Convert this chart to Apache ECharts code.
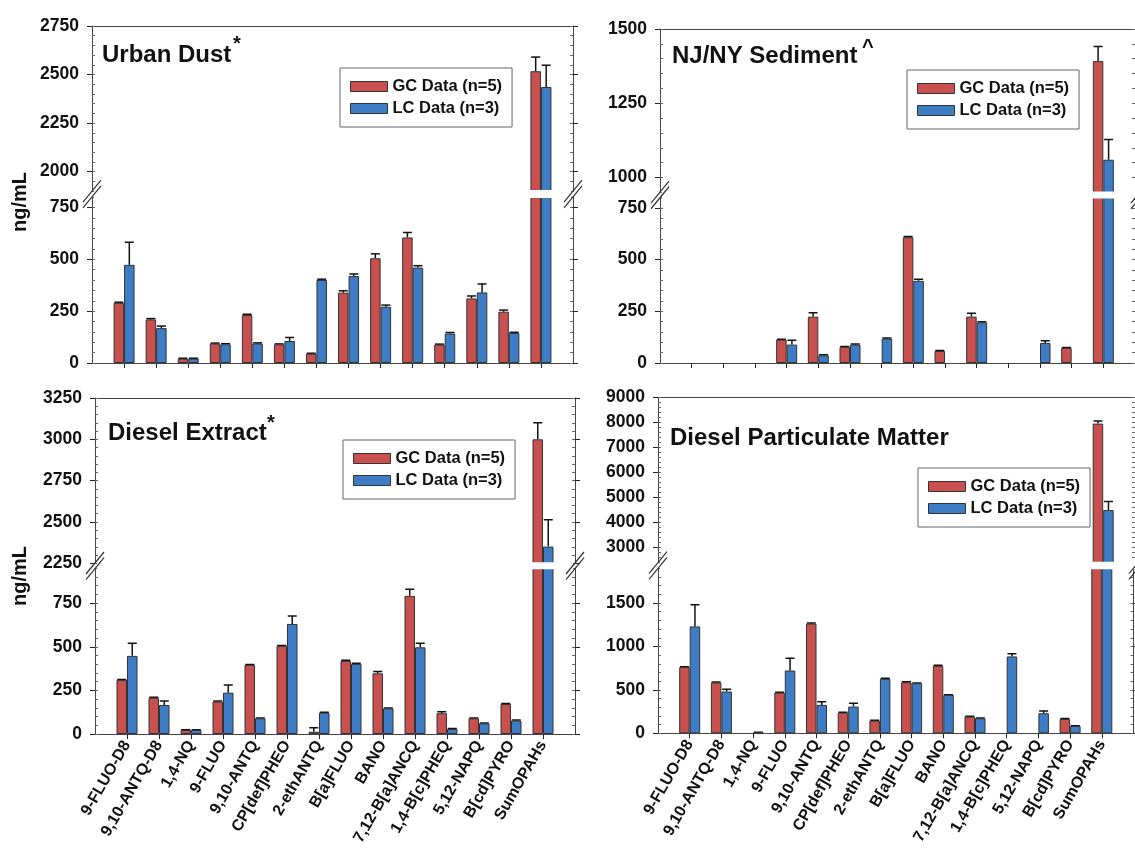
<!DOCTYPE html>
<html><head><meta charset="utf-8">
<script src="https://cdn.jsdelivr.net/npm/echarts@6/dist/echarts.min.js"></script>
<style>html,body{margin:0;padding:0;background:#fff}#c{width:1135px;height:866px}</style>
</head><body><div id="c"></div>
<script>
const categories = ['9-FLUO-D8','9,10-ANTQ-D8','1,4-NQ','9-FLUO','9,10-ANTQ','CP[def]PHEO','2-ethANTQ','B[a]FLUO','BANO','7,12-B[a]ANCQ','1,4-B[c]PHEQ','5,12-NAPQ','B[cd]PYRO','SumOPAHs'];
const seriesNames = ['GC Data (n=5)','LC Data (n=3)'];

// Urban Dust
const urbanGC    = [290,210,21,94,231,90,45,339,505,605,89,311,247,2517];
const urbanGCErr = [3,4,2,2,4,2,2,9,21,24,2,12,8,73];
const urbanLC    = [473,168,21,90,94,106,400,419,271,460,142,340,145,2436];
const urbanLCErr = [109,10,2,3,3,17,4,10,8,9,5,41,3,112];
// NJ/NY Sediment
const sedGC    = [null,null,null,113,224,78,null,608,58,224,null,null,73,1392];
const sedGCErr = [0,0,0,2,19,2,0,4,2,16,0,0,2,49];
const sedLC    = [null,null,null,89,37,89,118,397,null,196,null,97,null,1060];
const sedLCErr = [0,0,0,21,3,3,3,8,0,3,0,10,0,68];
// Diesel Extract
const dexGC    = [310,208,23,186,396,505,13,419,348,792,119,90,172,3000];
const dexGCErr = [2,3,2,3,3,3,23,4,10,38,9,2,3,100];
const dexLC    = [448,166,23,237,90,631,122,402,147,497,29,61,77,2351];
const dexLCErr = [72,23,2,44,2,46,3,3,2,23,2,2,3,162];
// Diesel Particulate Matter
const dpmGC    = [762,585,null,469,1262,238,146,588,777,192,null,null,165,7950];
const dpmGCErr = [5,5,0,5,8,5,3,5,8,4,0,0,4,100];
const dpmLC    = [1231,481,10,723,327,308,627,577,442,173,885,231,85,4500];
const dpmLCErr = [250,27,2,142,35,38,6,3,3,4,30,27,3,340];

// tick labels
const urbanUpperTicks = [2000,2250,2500,2750];
const urbanLowerTicks = [0,250,500,750];
const sedUpperTicks = [1000,1250,1500];
const sedLowerTicks = [0,250,500,750];
const dexUpperTicks = [2250,2500,2750,3000,3250];
const dexLowerTicks = [0,250,500,750];
const dpmUpperTicks = [3000,4000,5000,6000,7000,8000,9000];
const dpmLowerTicks = [0,500,1000,1500];

const RED = '#C8504E', BLUE = '#3E7CC6';
const FONT = "'Liberation Sans', Arial, Helvetica, sans-serif";
const BW = 10.5;

const panels = [
  {gc:urbanGC, gcErr:urbanGCErr, lc:urbanLC, lcErr:urbanLCErr, left:92, width:481, labels:false,
   up:{top:26, height:165, min:1900, max:2750, ticks:urbanUpperTicks, minor:50},
   lo:{top:197, height:166, min:0, max:800, ticks:urbanLowerTicks, minor:50},
   legend:[340,68], title:['Urban Dust',102,55], sup:['*',233,44], ylabel:[20,202]},
  {gc:sedGC, gcErr:sedGCErr, lc:sedLC, lcErr:sedLCErr, left:660, width:480, labels:false,
   up:{top:29, height:163.4, min:950, max:1500, ticks:sedUpperTicks, minor:50},
   lo:{top:197.5, height:165.5, min:0, max:800, ticks:sedLowerTicks, minor:50},
   legend:[907,70], title:['NJ/NY Sediment',672,56], sup:['^',862,47], ylabel:null},
  {gc:dexGC, gcErr:dexGCErr, lc:dexLC, lcErr:dexLCErr, left:95, width:480, labels:true,
   up:{top:398, height:165.3, min:2250, max:3250, ticks:dexUpperTicks, minor:50},
   lo:{top:568.3, height:165.7, min:0, max:950, ticks:dexLowerTicks, minor:50},
   legend:[343,440], title:['Diesel Extract',108,433], sup:['*',267,423], ylabel:[20,576]},
  {gc:dpmGC, gcErr:dpmGCErr, lc:dpmLC, lcErr:dpmLCErr, left:658, width:480, labels:true,
   up:{top:397.3, height:165.4, min:2400, max:9000, ticks:dpmUpperTicks, minor:200},
   lo:{top:568.3, height:165, min:0, max:1900, ticks:dpmLowerTicks, minor:100},
   legend:[918,468], title:['Diesel Particulate Matter',670,438], sup:null, ylabel:null}
];

const grid=[], xAxis=[], yAxis=[], series=[], graphic=[];
const axisCol = '#444';
const labelStyle = {color:'#111', fontFamily:FONT, fontWeight:'bold', fontSize:17.5};

function yAx(gi, s, pos, major){
  if (major) return {type:'value', gridIndex:gi, min:s.min, max:s.max, position:pos,
    axisLine:{show:true, lineStyle:{color:axisCol, width:1}},
    axisTick:{show:true, inside:false, length:5, customValues:s.ticks, lineStyle:{color:'#222', width:1}},
    axisLabel:{show:pos==='left', customValues:s.ticks, margin:13, formatter:(v)=>String(v), ...labelStyle},
    splitLine:{show:false}};
  return {type:'value', gridIndex:gi, min:s.min, max:s.max, interval:s.minor, position:pos,
    axisLine:{show:false}, axisTick:{show:true, inside:true, length:3, lineStyle:{color:'#666', width:1}},
    axisLabel:{show:false}, splitLine:{show:false}};
}

panels.forEach(p => {
  ['up','lo'].forEach(seg => {
    const s = p[seg];
    const gi = grid.length;
    grid.push({left:p.left, width:p.width, top:s.top, height:s.height});
    const xi = xAxis.length;
    xAxis.push({type:'category', gridIndex:gi, data:['',...categories,''], boundaryGap:false,
      position: seg==='up' ? 'top' : 'bottom',
      axisLine:{show:true, lineStyle:{color:axisCol, width:1}},
      axisTick:{show: seg==='lo', interval:(i)=> i>0 && i<categories.length+1, length:5, lineStyle:{color:'#222', width:1}},
      axisLabel:{show: seg==='lo' && p.labels, interval:0, rotate:60, margin:8, color:'#111', fontFamily:FONT, fontWeight:'bold', fontSize:16},
      splitLine:{show:false}});
    const yi = yAxis.length;
    yAxis.push(yAx(gi,s,'left',true), yAx(gi,s,'left',false), yAx(gi,s,'right',true), yAx(gi,s,'right',false));
    const keepBar = v => v!=null && (seg==='up' ? v > s.min : true);
    const keepErr = v => v!=null && (seg==='up' ? v > s.min : v < s.max);
    [[p.gc,p.gcErr,RED,-1],[p.lc,p.lcErr,BLUE,1]].forEach(([vals,errs,col,side],k) => {
      series.push({type:'bar', name:seriesNames[k], xAxisIndex:xi, yAxisIndex:yi,
        data:[null, ...vals.map(v => keepBar(v) ? v : null), null],
        barWidth:BW, barGap:'0%', clip:true, silent:true,
        itemStyle:{color:col, borderColor:'#333', borderWidth:1}});
      const ed = [];
      vals.forEach((v,i) => { if (keepErr(v)) ed.push([i+1, v, v+errs[i]]); });
      series.push({type:'custom', xAxisIndex:xi, yAxisIndex:yi, clip:true, silent:true, data:ed,
        renderItem:(params, api) => {
          const a = api.coord([api.value(0), api.value(1)]);
          const b = api.coord([api.value(0), api.value(2)]);
          const x = a[0] + side*BW/2;
          const st = {stroke:'#111', lineWidth:1.5};
          return {type:'group', children:[
            {type:'line', shape:{x1:x, y1:a[1], x2:x, y2:b[1]}, style:st},
            {type:'line', shape:{x1:x-4.5, y1:b[1], x2:x+4.5, y2:b[1]}, style:st}]};
        }});
    });
  });
  // white gap across the broken bars, then break marks
  const gy0 = p.up.top + p.up.height, gy1 = p.lo.top;
  graphic.push({type:'rect', silent:true, z:100, shape:{x:p.left+2, y:gy0-1, width:p.width-4, height:gy1-gy0+2}, style:{fill:'#fff'}});
  const cy = (gy0 + gy1)/2;
  [p.left, p.left+p.width].forEach(cx => {
    [-2.8, 2.8].forEach(o => graphic.push({type:'line', silent:true, z:101,
      shape:{x1:cx-9, y1:cy+11+o, x2:cx+9, y2:cy-11+o}, style:{stroke:'#333', lineWidth:1.2}}));
  });
  graphic.push({type:'text', x:p.title[1], y:p.title[2], silent:true,
    style:{text:p.title[0], fill:'#111', fontFamily:FONT, fontWeight:'bold', fontSize:24, align:'left', verticalAlign:'middle'}});
  if (p.sup) graphic.push({type:'text', x:p.sup[1], y:p.sup[2], silent:true,
    style:{text:p.sup[0], fill:'#111', fontFamily:FONT, fontWeight:'bold', fontSize:20, align:'left', verticalAlign:'middle'}});
  if (p.ylabel) graphic.push({type:'text', x:p.ylabel[0], y:p.ylabel[1], rotation:Math.PI/2, silent:true,
    style:{text:'ng/mL', fill:'#111', fontFamily:FONT, fontWeight:'bold', fontSize:20, align:'center', verticalAlign:'middle'}});
});

const legend = panels.map(p => ({data:seriesNames, orient:'vertical', left:p.legend[0], top:p.legend[1],
  itemWidth:37, itemHeight:10, itemGap:5, padding:[10,10,10,10], borderColor:'#666', borderWidth:1,
  icon:'rect', selectedMode:false, itemStyle:{borderColor:'#333', borderWidth:1},
  textStyle:{fontSize:16.5, fontWeight:'bold', fontFamily:FONT, color:'#111'}}));

const chart = echarts.init(document.getElementById('c'), null, {renderer:'canvas'});
chart.setOption({animation:false, backgroundColor:'#fff', grid, xAxis, yAxis, series, legend, graphic});
</script></body></html>
